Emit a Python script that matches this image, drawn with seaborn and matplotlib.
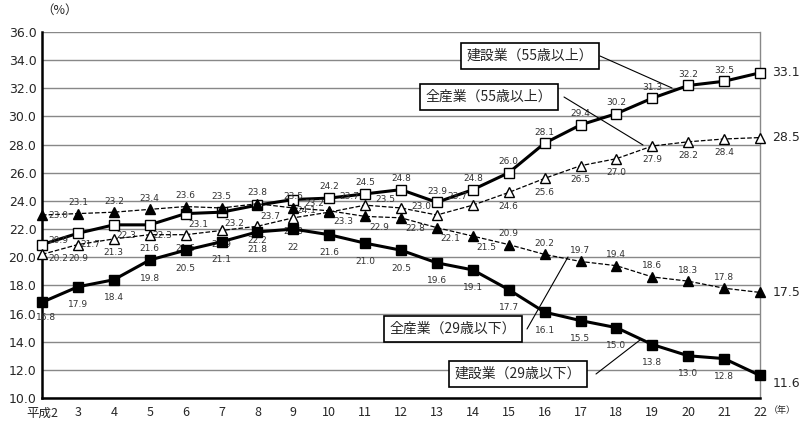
import numpy as np
import pandas as pd
import matplotlib
matplotlib.use("Agg")
import matplotlib.pyplot as plt
import seaborn as sns

# 平成2年〜22年
years = list(range(2, 23))
year_labels = ["平成2"] + [str(y) for y in years[1:]]

cons_55 = [20.9, 21.7, 22.3, 22.3, 23.1, 23.2, 23.7, 24.1, 24.2, 24.5, 24.8,
           23.9, 24.8, 26.0, 28.1, 29.4, 30.2, 31.3, 32.2, 32.5, 33.1]
all_55 = [20.2, 20.9, 21.3, 21.6, 21.6, 21.9, 22.2, 22.8, 23.2, 23.7, 23.5,
          23.0, 23.7, 24.6, 25.6, 26.5, 27.0, 27.9, 28.2, 28.4, 28.5]
all_29 = [23.0, 23.1, 23.2, 23.4, 23.6, 23.5, 23.8, 23.5, 23.3, 22.9, 22.8,
          22.1, 21.5, 20.9, 20.2, 19.7, 19.4, 18.6, 18.3, 17.8, 17.5]
cons_29 = [16.8, 17.9, 18.4, 19.8, 20.5, 21.1, 21.8, 22.0, 21.6, 21.0, 20.5,
           19.6, 19.1, 17.7, 16.1, 15.5, 15.0, 13.8, 13.0, 12.8, 11.6]

series_names = ["建設業（55歳以上）", "全産業（55歳以上）", "全産業（29歳以下）", "建設業（29歳以下）"]


def label_offset(series, i):
    # where each small data label sits relative to its marker (points)
    if i == 0:
        return {0: (12, 3), 1: (12, -3), 2: (12, 0), 3: (3, -11)}[series]
    if series == 0:
        return (9, -8) if 1 <= i <= 7 else (0, 8)
    if series == 1:
        return (-11, 6) if 8 <= i <= 12 else (0, -10)
    if series == 2:
        return (10, -8) if 8 <= i <= 12 else (0, 8)
    return (0, -13)


sns.set_style("white")
plt.rcParams["font.family"] = ["Noto Sans CJK JP", "DejaVu Sans"]

fig = plt.figure(figsize=(8, 4.3), dpi=100)
ax = fig.add_axes([0.0525, 0.0744, 0.8975, 0.8512])

styles = [
    # values, marker, face, line width, dash, end label dy
    (cons_55, "s", "white", 2.2, "-", 0),
    (all_55, "^", "white", 0.9, "--", 0),
    (all_29, "^", "black", 0.9, "--", 0),
    (cons_29, "s", "black", 2.2, "-", -6),
]

for k, (name, (vals, mk, face, lw, ls, end_dy)) in enumerate(zip(series_names, styles)):
    df = pd.DataFrame({"year": years, "value": vals})
    sns.lineplot(data=df, x="year", y="value", ax=ax, color="black",
                 linewidth=lw, linestyle=ls, marker=mk, markersize=7,
                 markerfacecolor=face, markeredgecolor="black",
                 markeredgewidth=1.0, clip_on=False, zorder=3)
    for i, (x, v) in enumerate(zip(years[:-1], vals[:-1])):
        txt = "22" if v == 22.0 and k == 3 else f"{v:.1f}"
        ax.annotate(txt, (x, v), xytext=label_offset(k, i),
                    textcoords="offset points", ha="center", va="center",
                    fontsize=6.5, color="#333333", family="DejaVu Sans")
    ax.annotate(f"{vals[-1]:.1f}", (years[-1], vals[-1]), xytext=(9, end_dy),
                textcoords="offset points", ha="left", va="center",
                fontsize=9, family="DejaVu Sans")

ax.set_xlim(2, 22)
ax.set_ylim(10, 36)
ax.set_yticks(np.arange(10, 36.1, 2))
ax.set_yticklabels([f"{t:.1f}" for t in np.arange(10, 36.1, 2)], fontsize=9,
                   family="DejaVu Sans")
ax.set_xticks(years)
ax.set_xticklabels(year_labels, fontsize=9)
ax.set_xlabel("")
ax.set_ylabel("")
ax.grid(axis="y", color="#888888", linewidth=1.0)
ax.set_axisbelow(True)
ax.tick_params(axis="x", direction="in", length=4, width=1, color="black", pad=6)
ax.tick_params(axis="y", length=0, pad=4)

for side in ["left", "bottom"]:
    ax.spines[side].set_color("black")
    ax.spines[side].set_linewidth(1.8)
ax.spines["right"].set_color("#888888")
ax.spines["right"].set_linewidth(1.0)
ax.spines["top"].set_visible(False)

ax.text(0.025, 1.06, "（%）", transform=ax.transAxes, ha="center", va="center",
        fontsize=9)
ax.text(1.012, -0.035, "（年）", transform=ax.transAxes, ha="left", va="center",
        fontsize=6.5)


# callout boxes with leader lines (figure pixel coords -> figure fraction)
def fx(px):
    return px / 800


def fy(py):
    return 1 - py / 430


callouts = [
    (series_names[0], (530, 56), (600, 56), (672, 88)),
    (series_names[1], (489, 97), (564, 97), (643, 145)),
    (series_names[2], (453, 329), (527, 329), (568, 257)),
    (series_names[3], (518, 374), (596, 374), (640, 340)),
]
box = dict(boxstyle="square,pad=0.4", facecolor="white", edgecolor="black",
           linewidth=1.2)
for text, (cx, cy), (lx, ly), (px, py) in callouts:
    fig.add_artist(plt.Line2D([fx(lx), fx(px)], [fy(ly), fy(py)],
                              color="black", linewidth=0.8, zorder=4))
    fig.text(fx(cx), fy(cy), text, ha="center", va="center", fontsize=10,
             bbox=box, zorder=5)

fig.savefig("out.png", dpi=100)
